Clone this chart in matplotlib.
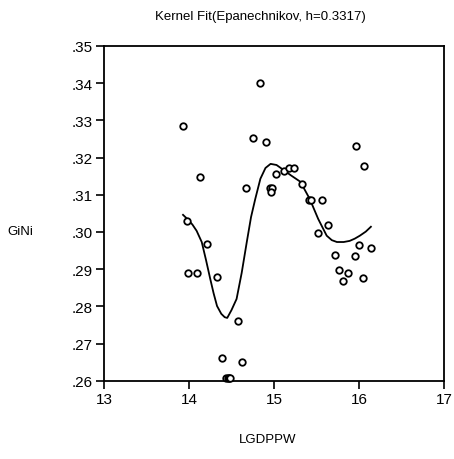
import matplotlib
matplotlib.use("Agg")
import matplotlib.pyplot as plt
from matplotlib.ticker import FuncFormatter

# scatter data (LGDPPW, GINI)
lgdppw = [13.93, 13.98, 13.99, 14.09, 14.13, 14.21, 14.33, 14.39, 14.58, 14.62,
          14.44, 14.455, 14.47, 14.485,
          14.67, 14.75, 14.84, 14.91, 14.95, 14.98, 14.97, 15.02, 15.12, 15.18,
          15.24, 15.33, 15.41, 15.43, 15.52, 15.56, 15.64, 15.72, 15.76, 15.81,
          15.87, 15.95, 15.96, 16.00, 16.05, 16.06, 16.14]
gini = [0.3285, 0.303, 0.289, 0.289, 0.3148, 0.2968, 0.288, 0.2662, 0.2761, 0.2651,
        0.2608, 0.2608, 0.2608, 0.2608,
        0.3118, 0.3253, 0.3401, 0.3242, 0.3118, 0.3118, 0.3107, 0.3156, 0.3164, 0.3172,
        0.3172, 0.3129, 0.3086, 0.3086, 0.2998, 0.3086, 0.3019, 0.2938, 0.2898, 0.2869,
        0.289, 0.2936, 0.3231, 0.2965, 0.2877, 0.3178, 0.2957]

# kernel fit curve
fit_x = [13.93, 13.98, 14.04, 14.09, 14.15, 14.20, 14.25, 14.29, 14.33, 14.38,
         14.42, 14.45, 14.50, 14.56, 14.62, 14.68, 14.73, 14.78, 14.84, 14.90,
         14.96, 15.03, 15.11, 15.20, 15.31, 15.42, 15.52, 15.62, 15.68, 15.74,
         15.82, 15.89, 15.95, 16.01, 16.08, 16.14]
fit_y = [0.3046, 0.3035, 0.3020, 0.3003, 0.2973, 0.2925, 0.2874, 0.2835, 0.2801, 0.2780,
         0.2771, 0.2769, 0.2790, 0.2820, 0.2890, 0.2973, 0.3040, 0.3089, 0.3143, 0.3172,
         0.3183, 0.3180, 0.3167, 0.3152, 0.3135, 0.3089, 0.3035, 0.2990, 0.2978, 0.2973,
         0.2973, 0.2976, 0.2982, 0.2990, 0.3001, 0.3014]

xticks = [13, 14, 15, 16, 17]
yticks = [0.26, 0.27, 0.28, 0.29, 0.30, 0.31, 0.32, 0.33, 0.34, 0.35]

plt.rcParams['font.family'] = ['Liberation Sans', 'DejaVu Sans']

fig = plt.figure(figsize=(4.54, 4.60), dpi=100)
ax = fig.add_axes([0.229, 0.170, 0.749, 0.728])

ax.plot(fit_x, fit_y, color='black', lw=1.3)
ax.scatter(lgdppw, gini, s=22, facecolors='white', edgecolors='black',
           linewidths=1.3, zorder=3, clip_on=False)

ax.set_xlim(13, 17)
ax.set_ylim(0.26, 0.35)
ax.set_xticks(xticks)
ax.set_yticks(yticks)
ax.yaxis.set_major_formatter(FuncFormatter(lambda v, p: ('%.2f' % v)[1:]))
ax.tick_params(direction='out', length=6, width=1.2, labelsize=11, pad=2)
for s in ax.spines.values():
    s.set_linewidth(1.3)

fig.text(0.573, 0.963, 'Kernel Fit(Epanechnikov, h=0.3317)', fontsize=9.5,
         ha='center', va='center')
fig.text(0.045, 0.496, 'GiNi', fontsize=9.5, ha='center', va='center')
fig.text(0.59, 0.043, 'LGDPPW', fontsize=9.5, ha='center', va='center')

fig.savefig('out.png', dpi=100)
